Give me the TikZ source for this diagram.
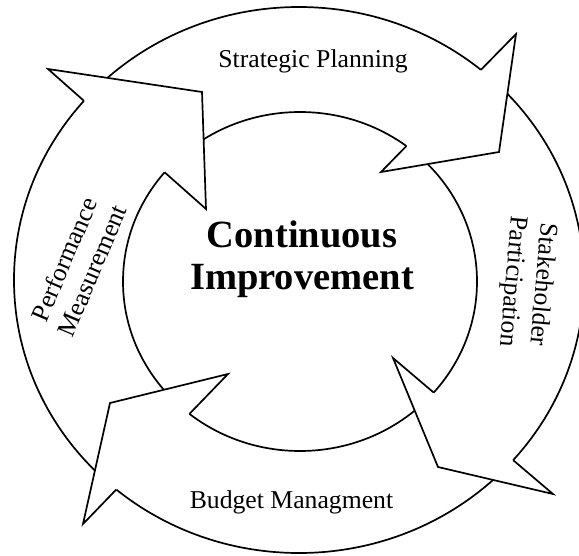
\documentclass[tikz,border=0pt]{standalone}
\usepackage{fontspec}
\setmainfont{Liberation Serif}
\usetikzlibrary{intersections}
\tikzset{
  % the ring that the four arrows share
  ring/.style={draw=black, line width=1.7pt},
  headline/.style={draw=black, line width=1.7pt, line join=miter},
  stagelabel/.style={font=\fontsize{25.7}{30}\selectfont, align=center, inner sep=0pt},
  corelabel/.style={font=\bfseries\fontsize{38.5}{42}\selectfont, align=center, inner sep=0pt},
}
% arrowhead laid over the ring: #1 name, #2 outer barb, #3 tip, #4 inner barb
\newcommand{\arrowhead}[4]{%
  \coordinate (#1o) at #2; \coordinate (#1a) at #3; \coordinate (#1i) at #4;
  \path [name path=#1base] (#1o) -- (#1i);
  \path [name intersections={of=outer and #1base, by=#1no}];
  \path [name intersections={of=inner and #1base, by=#1ni}];
  \fill [white] (#1o) -- (#1a) -- (#1i) -- cycle;
  \draw [headline] (#1no) -- (#1o) -- (#1a) -- (#1i) -- (#1ni);}

\begin{document}
\begin{tikzpicture}[x=1pt, y=-1pt]

  \useasboundingbox (0,0) rectangle (579,555);
  \clip (0,0) rectangle (579,555);

  \draw [ring, name path=outer] (299,280) ellipse [x radius=285pt, y radius=273pt];
  \draw [ring, name path=inner] (300,281.5) ellipse [x radius=177pt, y radius=169.5pt];

  % heads, clockwise from the top right
  \arrowhead{plan}{(516,34)}{(499,152)}{(381,172)}
  \arrowhead{stake}{(553,494)}{(438,467)}{(393,358)}
  \arrowhead{budget}{(83,524)}{(110,403)}{(228,374)}
  \arrowhead{perf}{(48,69)}{(202,92)}{(206,209)}

  \node [stagelabel, anchor=base] (planning) at (313,67) {Strategic Planning};
  \node [stagelabel, rotate=-95] (participation) at (527,283) {Stakeholder\\Participation};
  \node [stagelabel, anchor=base] (management) at (291.5,508) {Budget Managment};
  \node [stagelabel, rotate=67] (measurement) at (78,265) {Performance\\Measurement};

  \node [corelabel] (core) at (302,259) {Continuous\\Improvement};

\end{tikzpicture}
\end{document}
